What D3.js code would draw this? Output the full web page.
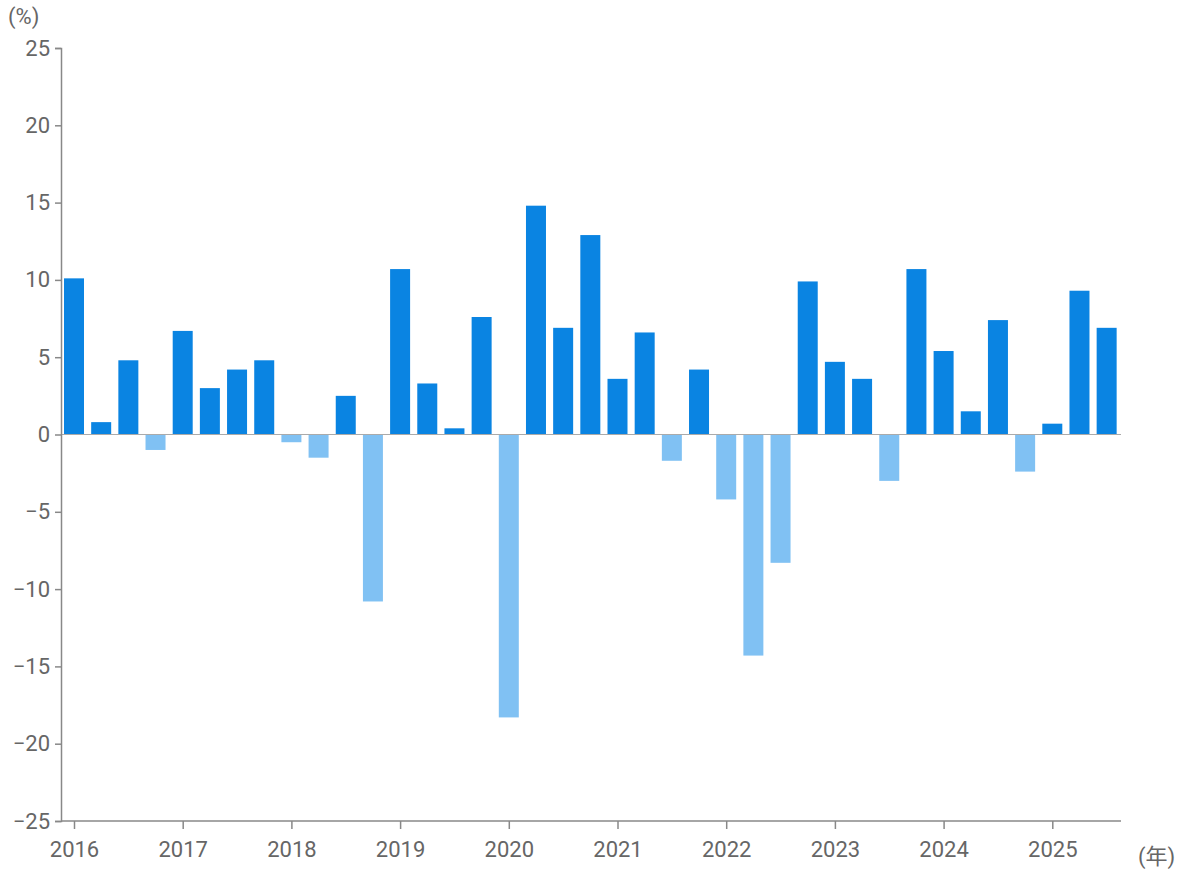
<!DOCTYPE html>
<html><head><meta charset="utf-8">
<script src="https://cdn.jsdelivr.net/npm/d3@7"></script>
<style>body{margin:0;background:#fff}text{font-family:Roboto,"Noto Sans CJK JP",sans-serif}</style>
</head><body><svg id="c" width="1184" height="872"></svg>
<script>
const years = [2016,2017,2018,2019,2020,2021,2022,2023,2024,2025];
const values = [10.1,0.8,4.8,-1.0, 6.7,3.0,4.2,4.8, -0.5,-1.5,2.5,-10.8, 10.7,3.3,0.4,7.6,
 -18.3,14.8,6.9,12.9, 3.6,6.6,-1.7,4.2, -4.2,-14.3,-8.3,9.9, 4.7,3.6,-3.0,10.7,
 5.4,1.5,7.4,-2.4, 0.7,9.3,6.9];
const yTicks = [25,20,15,10,5,0,-5,-10,-15,-20,-25];
const svg = d3.select('#c');
const x = d3.scaleLinear().domain([2016,2026]).range([74,1161]);
const y = d3.scaleLinear().domain([-25,25]).range([821,48]);
const grey='#666';
svg.selectAll('rect.b').data(values).join('rect')
 .attr('x',(d,i)=>x(2016+i/4)-10).attr('width',20)
 .attr('y',d=>y(Math.max(0,d))).attr('height',d=>Math.abs(y(d)-y(0)))
 .attr('fill',d=>d>=0?'#0a84e2':'#80c1f3');
svg.append('line').attr('x1',61).attr('x2',1121).attr('y1',y(0)).attr('y2',y(0)).attr('stroke','#aaa');
const ya = svg.append('g').attr('transform','translate(61,0)')
 .call(d3.axisLeft(y).tickValues(yTicks).tickSize(6).tickFormat(d3.format('d')));
const xa = svg.append('g').attr('transform','translate(0,821)')
 .call(d3.axisBottom(x).tickValues(years).tickSize(8).tickFormat(d3.format('d')).tickSizeOuter(0));
[ya,xa].forEach(a=>{a.select('.domain').attr('stroke','#888').attr('stroke-width',1.5);
 a.selectAll('.tick line').attr('stroke','#888').attr('stroke-width',1.5);
 a.selectAll('text').attr('fill',grey).attr('font-size',22).attr('font-family','Roboto');});
xa.select('.domain').attr('d','M61,0H1121');
xa.selectAll('text').attr('dy','1.15em');
ya.selectAll('text').attr('x',-11);
svg.append('text').attr('x',8).attr('y',24).attr('fill',grey).attr('font-size',22).text('(%)');
svg.append('text').attr('x',1138).attr('y',864).attr('fill',grey).attr('font-size',22).text('(年)');
</script></body></html>
